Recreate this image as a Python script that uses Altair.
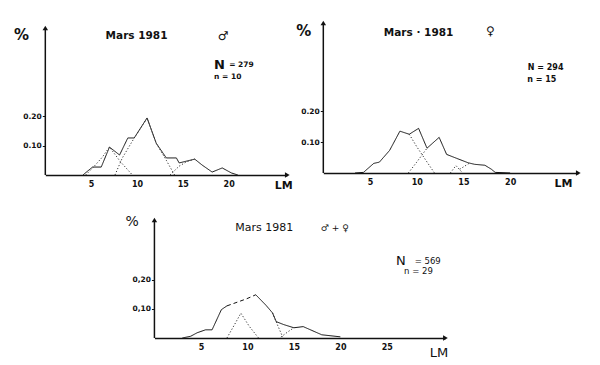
import altair as alt
import pandas as pd

FONT = "DejaVu Sans"
INK = "#111111"

# ---------------- Panel 1 : Mars 1981, males ----------------
p1_x = [4.1, 5.15, 6.1, 7.0, 8.1, 9.0, 9.7, 11.1, 12.1, 13.2, 14.3, 14.6, 16.3, 17.1, 18.2, 19.3, 20.3, 21.0]
p1_y = [0.0, 0.027, 0.027, 0.095, 0.068, 0.126, 0.126, 0.194, 0.108, 0.058, 0.058, 0.041, 0.054, 0.034, 0.010, 0.024, 0.007, 0.0]
p1_c1_x = [4.4, 5.2, 6.2, 7.0, 8.2, 9.5]
p1_c1_y = [0.0, 0.025, 0.06, 0.095, 0.045, 0.0]
p1_c2_x = [7.6, 8.4, 9.7, 11.1, 12.1, 13.2, 14.1]
p1_c2_y = [0.0, 0.058, 0.126, 0.194, 0.108, 0.05, 0.0]
p1_c3_x = [13.6, 14.6, 15.4, 16.3]
p1_c3_y = [0.0, 0.03, 0.045, 0.054]

# ---------------- Panel 2 : Mars 1981, females ----------------
p2_x = [3.4, 4.3, 5.4, 6.0, 7.1, 8.2, 9.2, 10.2, 11.1, 12.4, 13.2, 14.3, 15.5, 16.2, 17.3, 18.0, 18.4, 20.0]
p2_y = [0.0, 0.002, 0.031, 0.035, 0.073, 0.135, 0.125, 0.144, 0.080, 0.115, 0.060, 0.047, 0.033, 0.028, 0.025, 0.012, 0.002, 0.0]
p2_c1_x = [9.2, 10.0, 11.0, 11.9]
p2_c1_y = [0.125, 0.085, 0.04, 0.0]
p2_c2_x = [9.1, 10.0, 11.1]
p2_c2_y = [0.0, 0.035, 0.08]
p2_c3_x = [13.6, 14.2, 14.8]
p2_c3_y = [0.0, 0.024, 0.004]
p2_c4_x = [14.6, 15.6]
p2_c4_y = [0.012, 0.031]

# ---------------- Panel 3 : Mars 1981, males + females ----------------
p3_x = [3.0, 3.9, 4.6, 5.5, 6.2, 7.2, 7.8, 9.9, 10.9, 12.0, 12.7, 13.1, 13.9, 15.0, 16.0, 18.0, 20.0]
p3_y = [0.0, 0.006, 0.018, 0.028, 0.028, 0.097, 0.11, 0.134, 0.148, 0.112, 0.086, 0.056, 0.046, 0.035, 0.039, 0.011, 0.004]
p3_dash_from, p3_dash_to = 6, 8   # the stretch 7.8 -> 10.9 is drawn dashed
p3_ca_x = [7.8, 8.6, 9.3, 10.2, 11.2]
p3_ca_y = [0.0, 0.045, 0.085, 0.04, 0.0]
p3_cb_x = [12.7, 13.3, 13.8]
p3_cb_y = [0.086, 0.04, 0.003]
p3_cc_x = [13.6, 14.3, 15.0]
p3_cc_y = [0.003, 0.02, 0.035]

x_ticks_top = [5, 10, 15, 20]
x_ticks_bottom = [5, 10, 15, 20, 25]
y_ticks = [0.10, 0.20]


def comps_df(pairs):
    rows = []
    for i, (xs, ys) in enumerate(pairs):
        for a, b in zip(xs, ys):
            rows.append({"x": a, "y": b, "c": f"c{i}"})
    return pd.DataFrame(rows)


def total_df(xs, ys, dash=None):
    n = len(xs)
    if dash is None:
        segs = [("a", 0, n - 1)]
    else:
        segs = [("a", 0, dash[0]), ("b", dash[0], dash[1]), ("c", dash[1], n - 1)]
    rows = []
    for name, i0, i1 in segs:
        for i in range(i0, i1 + 1):
            rows.append({"x": xs[i], "y": ys[i], "seg": name})
    return pd.DataFrame(rows)


def panel(total, comps, xdom, ydom, ytop, w, h, xticks, comma, texts, weight, spacer):
    xs = alt.Scale(domain=xdom, nice=False, zero=False)
    ys = alt.Scale(domain=ydom, nice=False, zero=False)
    yexpr = "replace(format(datum.value, '.2f'), '.', ',')" if comma else "format(datum.value, '.2f')"
    xaxis = alt.Axis(values=xticks, domainColor=INK, domainWidth=1.5, ticks=False,
                     labelFontSize=8, labelFont=FONT, labelFontWeight="bold", labelColor=INK,
                     labelPadding=5, grid=False, title=None, labelAngle=0)
    yaxis = alt.Axis(values=y_ticks, labelExpr=yexpr, domain=False,
                     tickSize=3, tickColor=INK, tickWidth=1, labelFontSize=7.5, labelFont=FONT,
                     labelFontWeight="bold", labelColor=INK, labelPadding=1, grid=False, title=None)
    base = alt.Chart(total).mark_line(color=INK, strokeWidth=1).encode(
        x=alt.X("x:Q", scale=xs, axis=xaxis),
        y=alt.Y("y:Q", scale=ys, axis=yaxis),
        detail="seg:N",
        strokeDash=alt.StrokeDash("seg:N", scale=alt.Scale(domain=["a", "b", "c"], range=[[1, 0], [4, 3], [1, 0]]), legend=None),
    )
    comp = alt.Chart(comps).mark_line(color="#333333", strokeWidth=1, strokeDash=[1.2, 2]).encode(
        x=alt.X("x:Q", scale=xs),
        y=alt.Y("y:Q", scale=ys),
        detail="c:N",
    )
    yline = alt.Chart(pd.DataFrame({"x": [xdom[0]], "y": [ydom[0]], "y2": [ytop]})).mark_rule(
        color=INK, strokeWidth=1.5
    ).encode(x=alt.X("x:Q", scale=xs), y=alt.Y("y:Q", scale=ys), y2="y2:Q")
    arrows = alt.Chart(pd.DataFrame({
        "x": [xdom[0], xdom[1]], "y": [ytop, ydom[0]], "s": ["triangle-up", "triangle-right"]
    })).mark_point(filled=True, size=30, color=INK, opacity=1).encode(
        x=alt.X("x:Q", scale=xs),
        y=alt.Y("y:Q", scale=ys),
        shape=alt.Shape("s:N", scale=None),
    )
    tb = alt.Chart(texts).mark_text(font=FONT, fontWeight=weight, color=INK, baseline="middle").encode(
        x=alt.X("x:Q", scale=xs),
        y=alt.Y("y:Q", scale=ys),
        text="t:N",
        size=alt.Size("s:Q", scale=None),
    )
    layers = [base, comp, yline, arrows, tb]
    if spacer is not None:
        # invisible (white) glyph used only to reserve layout room
        layers.append(alt.Chart(pd.DataFrame({"x": [spacer[0]], "y": [spacer[1]]})).mark_text(
            text="|", fontSize=8, color="white", baseline="middle"
        ).encode(x=alt.X("x:Q", scale=xs), y=alt.Y("y:Q", scale=ys)))
    return alt.layer(*layers).properties(width=w, height=h)


def tdf(items):
    return pd.DataFrame(items, columns=["x", "y", "t", "s"])


p1 = panel(
    total_df(p1_x, p1_y),
    comps_df([(p1_c1_x, p1_c1_y), (p1_c2_x, p1_c2_y), (p1_c3_x, p1_c3_y)]),
    [0, 26.4], [0, 0.517], 0.5, 242, 152, x_ticks_top, False,
    tdf([(9.95, 0.473, "Mars  1981", 10.5), (19.4, 0.473, "♂", 12),
         (19.0, 0.374, "N", 13), (21.4, 0.374, "= 279", 7.5), (19.9, 0.333, "n  =  10", 7.5),
         (-2.6, 0.476, "%", 15), (26.0, -0.036, "LM", 11)]),
    "bold", None,
)

p2 = panel(
    total_df(p2_x, p2_y),
    comps_df([(p2_c1_x, p2_c1_y), (p2_c2_x, p2_c2_y), (p2_c3_x, p2_c3_y), (p2_c4_x, p2_c4_y)]),
    [0, 27.3], [0, 0.484], 0.484, 255, 150, x_ticks_top, False,
    tdf([(10.2, 0.451, "Mars · 1981", 10.5), (17.9, 0.457, "♀", 12),
         (23.8, 0.338, "N  =  294", 8), (23.4, 0.299, "n  =  15", 8),
         (-2.1, 0.457, "%", 15), (25.7, -0.036, "LM", 11)]),
    "bold", None,
)

p3 = panel(
    total_df(p3_x, p3_y, (p3_dash_from, p3_dash_to)),
    comps_df([(p3_ca_x, p3_ca_y), (p3_cb_x, p3_cb_y), (p3_cc_x, p3_cc_y)]),
    [0, 31.3], [0, 0.404], 0.404, 291, 118, x_ticks_bottom, True,
    tdf([(11.8, 0.377, "Mars  1981", 11), (19.4, 0.377, "♂ + ♀", 9),
         (26.5, 0.265, "N", 13), (29.4, 0.265, "= 569", 8.5), (28.4, 0.229, "n  =  29", 8.5),
         (-2.4, 0.398, "%", 14), (30.6, -0.051, "LM", 13)]),
    "normal", (34.0, 0.1),
)

chart = alt.vconcat(
    alt.hconcat(p1, p2, spacing=2),
    p3,
    spacing=23,
    center=True,
).properties(
    padding={"left": 5, "top": 12, "right": 0, "bottom": 0},
    background="white",
).configure_view(stroke=None)

chart.save("out.html", embed_options={"renderer": "svg", "actions": False})
